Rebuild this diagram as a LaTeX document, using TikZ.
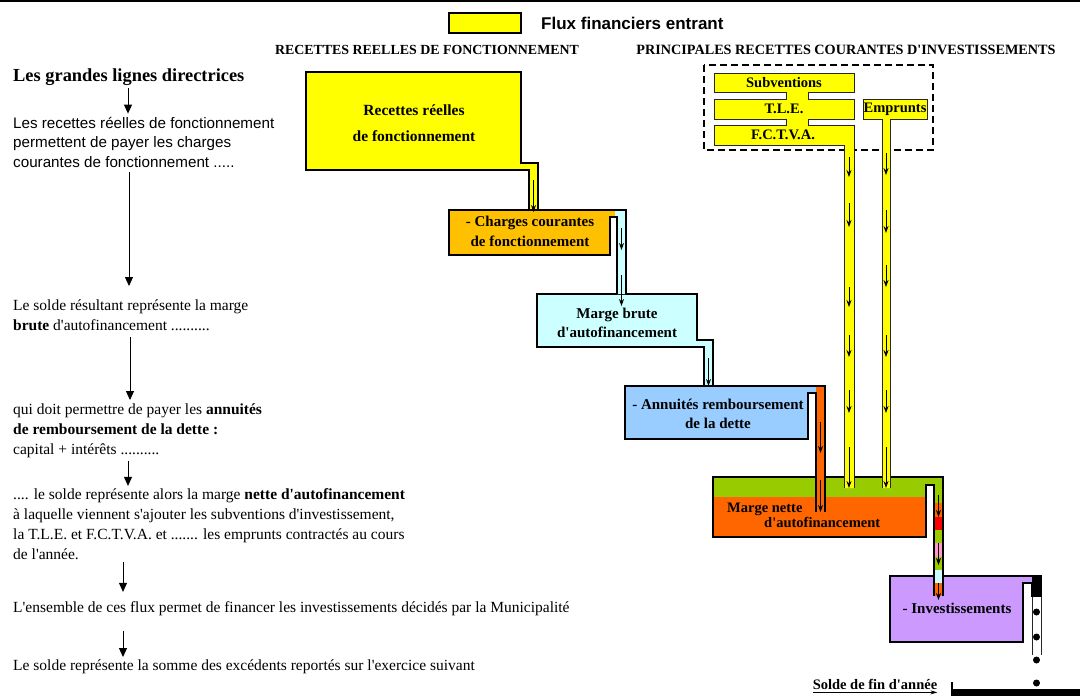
\documentclass[tikz,border=0pt]{standalone}
\usepackage{fontspec}
\setmainfont{Liberation Serif}[Ligatures=TeXOff]
\newfontfamily\arialfont{Liberation Sans}
\usetikzlibrary{arrows.meta}

\definecolor{fluxyellow}{HTML}{FFFF00}
\definecolor{chargeorange}{HTML}{FFC000}
\definecolor{brutecyan}{HTML}{CCFFFF}
\definecolor{annuiteblue}{HTML}{99CCFF}
\definecolor{nettegreen}{HTML}{99CC00}
\definecolor{netteorange}{HTML}{FF6600}
\definecolor{pipered}{HTML}{FF0000}
\definecolor{pipepink}{HTML}{FF99CC}
\definecolor{investpurple}{HTML}{CC99FF}

\tikzset{
  wall/.style={line width=1.6pt, black},
  thinwall/.style={line width=0.9pt, black!85},
  drop/.style={-{Stealth[length=7pt,width=5pt]}, line width=0.8pt},
  guide/.style={-{Triangle[length=9pt,width=8pt]}, line width=0.9pt},
  boxtext/.style={font=\bfseries\fontsize{15}{19.5}\selectfont, align=center, inner sep=0pt},
  tagtext/.style={font=\bfseries\fontsize{14.5}{16}\selectfont, inner sep=0pt},
  sidetext/.style={anchor=base west, align=left, inner sep=0pt, font=\fontsize{15.5}{20}\selectfont},
}

\begin{document}
\begin{tikzpicture}[x=1pt, y=-1pt]
    \useasboundingbox (0,0) rectangle (1080,696);

    % Top rule
    \draw[line width=2pt] (0,1) -- (1080,1);

    % Legend
    \draw[wall, fill=fluxyellow] (449,13) rectangle (521,33);
    \node[anchor=west, inner sep=0pt, font=\arialfont\bfseries\fontsize{17}{19}\selectfont] (legend) at (541,23) {Flux financiers entrant};

    % Column titles
    \node[inner sep=0pt, font=\bfseries\fontsize{13.9}{15}\selectfont] (titlefonct) at (427,50) {RECETTES REELLES DE FONCTIONNEMENT};
    \node[inner sep=0pt, font=\bfseries\fontsize{14.2}{15}\selectfont] (titleinvest) at (846,50) {PRINCIPALES RECETTES COURANTES D'INVESTISSEMENTS};

    % Left column: the guide lines (anchored on the last baseline)
    \node[sidetext, font=\bfseries\fontsize{18.4}{20}\selectfont] (l0) at (13,81) {Les grandes lignes directrices};
    \node[sidetext, font=\arialfont\fontsize{15.2}{19.5}\selectfont] (l1) at (13,167) {Les recettes réelles de fonctionnement\\permettent de payer les charges\\courantes de fonctionnement .....};
    \node[sidetext] (l2) at (13,330) {Le solde résultant représente la marge\\\textbf{brute} d'autofinancement ..........};
    \node[sidetext] (l3) at (13,454) {qui doit permettre de payer les \textbf{annuités}\\\textbf{de remboursement de la dette :}\\capital + intérêts ..........};
    \node[sidetext] (l4) at (13,559) {.... le solde représente alors la marge \textbf{nette d'autofinancement}\\à laquelle viennent s'ajouter les subventions d'investissement,\\la T.L.E. et F.C.T.V.A. et ....... les emprunts contractés au cours\\de l'année.};
    \node[sidetext] (l5) at (13,612) {L'ensemble de ces flux permet de financer les investissements décidés par la Municipalité};
    \node[sidetext] (l6) at (13,670) {Le solde représente la somme des excédents reportés sur l'exercice suivant};

    \foreach \a/\b/\x/\s/\e in {l0/l1/128/3pt/3pt, l1/l2/129/5pt/13pt, l2/l3/130/7pt/3pt, l3/l4/128/3pt/2pt, l4/l5/123/3pt/9pt, l5/l6/123/15pt/2pt}
        \draw[guide, shorten <=\s, shorten >=\e] (\a.south -| \x,0) -- (\b.north -| \x,0);

    % Investissements and the year-end balance
    \fill[investpurple] (890,576) rectangle (1023,642);
    \fill[investpurple] (1023,576) rectangle (1032,583);
    \fill[black] (1032,576) rectangle (1041,597);
    \draw[wall] (1032,597) -- (1032,583) -- (1023,583) -- (1023,642) -- (890,642) -- (890,576) -- (1041,576) -- (1041,597);
    \draw[thinwall] (1032,597) -- (1032,655);
    \draw[thinwall] (1041,597) -- (1041,655);
    \foreach \y in {612,637,660,683}
        \fill (1036.5,\y) circle (3.5pt);
    \fill[black] (952,689) rectangle (1080,696);
    \draw[line width=1.5pt] (952,682) -- (952,696);

    % Marge nette, with its coloured outflow
    \fill[nettegreen] (713,477) rectangle (926,497);
    \fill[nettegreen] (926,477) rectangle (943,485);
    \fill[netteorange] (713,497) rectangle (926,537);
    \foreach \ya/\yb/\c in {477/503/nettegreen, 503/517/netteorange, 517/530/pipered, 530/543/nettegreen, 543/557/pipepink, 557/570/nettegreen, 570/583/brutecyan, 583/596/netteorange}
        \fill[\c] (934,\ya) rectangle (943,\yb);
    \draw[wall] (934,596) -- (934,485) -- (926,485) -- (926,537) -- (713,537) -- (713,477) -- (943,477) -- (943,596);
    \foreach \ya/\yb in {495/517, 543/565, 583/600}
        \draw[drop] (938.5,\ya) -- (938.5,\yb);

    % Annuites
    \fill[annuiteblue] (625,386) rectangle (808,439);
    \fill[annuiteblue] (808,386) rectangle (816,393);
    \fill[netteorange] (816,386) rectangle (825,512);
    \draw[wall] (816,512) -- (816,393) -- (808,393) -- (808,439) -- (625,439) -- (625,386) -- (825,386) -- (825,512);
    \foreach \ya/\yb in {422/453, 480/512}
        \draw[drop] (820.5,\ya) -- (820.5,\yb);

    % Marge brute
    \filldraw[wall, fill=brutecyan] (537,294) -- (697,294) -- (697,340) -- (713,340) -- (713,386) -- (704,386) -- (704,347) -- (537,347) -- cycle;
    \draw[drop] (708.5,358) -- (708.5,386);

    % Charges courantes
    \fill[chargeorange] (449,210) -- (615,210) -- (615,217) -- (610,217) -- (610,255) -- (449,255) -- cycle;
    \fill[brutecyan] (615,210) -- (626,210) -- (626,294) -- (617,294) -- (617,217) -- (615,217) -- cycle;
    \draw[wall] (617,294) -- (617,217) -- (610,217) -- (610,255) -- (449,255) -- (449,210) -- (626,210) -- (626,294);
    \foreach \ya/\yb in {228/250, 275/306}
        \draw[drop] (621.5,\ya) -- (621.5,\yb);

    % Recettes reelles
    \filldraw[wall, fill=fluxyellow] (306,72) -- (521,72) -- (521,163) -- (538,163) -- (538,210) -- (529,210) -- (529,170) -- (306,170) -- cycle;
    \draw[drop] (533.5,180) -- (533.5,212);

    % Recettes d'investissement
    \draw[line width=1.8pt, dash pattern=on 7pt off 4pt] (704,65) rectangle (933,150);
    \filldraw[thinwall, fill=fluxyellow] (844,488) -- (844,145) -- (714,145) -- (714,125) -- (786,125) -- (786,119) -- (714,119) -- (714,99) -- (786,99) -- (786,92) -- (714,92) -- (714,73) -- (854,73) -- (854,92) -- (808,92) -- (808,99) -- (854,99) -- (854,119) -- (808,119) -- (808,125) -- (854,125) -- (854,488);
    \filldraw[thinwall, fill=fluxyellow] (882,488) -- (882,119) -- (863,119) -- (863,99) -- (927,99) -- (927,119) -- (890,119) -- (890,488);
    \foreach \ya/\yb in {157/177, 203/227, 287/307, 335/357, 390/413, 447/488}
        \draw[drop] (849,\ya) -- (849,\yb);
    \foreach \ya/\yb in {153/175, 210/233, 265/287, 335/357, 390/413, 447/488}
        \draw[drop] (886,\ya) -- (886,\yb);

    % Box labels
    \node[boxtext, font=\bfseries\fontsize{15.5}{26}\selectfont] (recettes) at (414,123) {Recettes réelles\\de fonctionnement};
    \node[boxtext] (charges) at (530,231.5) {- Charges courantes\\de fonctionnement};
    \node[boxtext] (brute) at (617,323) {Marge brute\\d'autofinancement};
    \node[boxtext] (annuites) at (718,414) {- Annuités remboursement\\de la dette};
    \node[boxtext, align=left, anchor=base west, font=\bfseries\fontsize{14.5}{13}\selectfont] (nette) at (727,527) {Marge nette\\\hspace*{37pt}d'autofinancement};
    \node[boxtext] (invest) at (957,608) {- Investissements};
    \node[tagtext] (subv) at (784,83) {Subventions};
    \node[tagtext] (tle) at (784,109) {T.L.E.};
    \node[tagtext] (fctva) at (783,135) {F.C.T.V.A.};
    \node[tagtext] (emprunts) at (895,109) {Emprunts};

    % Year-end balance
    \node[tagtext] (solde) at (875,684) {Solde de fin d'année};
    \draw[-{Stealth[length=7pt,width=4pt]}, line width=0.8pt] ([yshift=-3pt]solde.south west) -- ([yshift=-3pt]solde.south east);

\end{tikzpicture}
\end{document}
